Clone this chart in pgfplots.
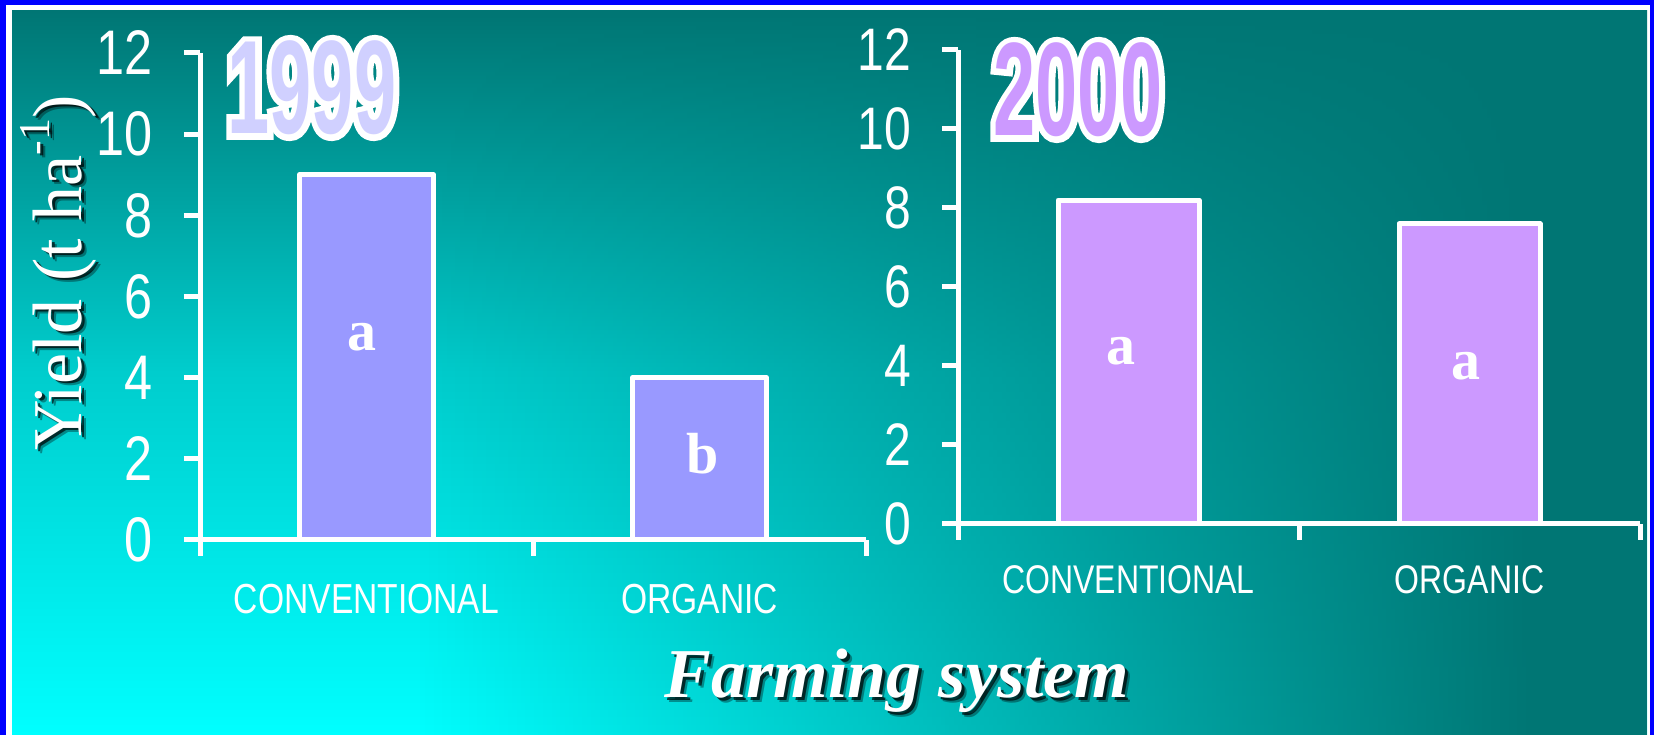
\documentclass[border=0pt]{standalone}
\usepackage{pgfplots}
\pgfplotsset{compat=1.18}
\usetikzlibrary{fadings}
\usepackage{fontspec}
\setmainfont{Liberation Serif}
\newfontfamily\narrowsans[FakeStretch=0.8]{Liberation Sans}
\newfontfamily\yearfont[FakeStretch=0.57]{Liberation Sans}
\newfontfamily\yearhalo[FakeStretch=0.57, FakeBold=9]{Liberation Sans}

\definecolor{bgteal}{RGB}{0,118,116}
\definecolor{bgmid}{RGB}{0,205,205}
\definecolor{bgcyan}{RGB}{0,255,255}
\definecolor{frameblue}{RGB}{0,0,255}
\definecolor{barblue}{RGB}{153,153,255}
\definecolor{barlilac}{RGB}{204,153,255}
\definecolor{yearlav}{RGB}{208,208,255}

\tikzfading[name=tealfade, left color=transparent!100, right color=transparent!0]

% outlined year heading: a thick white stroked copy under the coloured text
\newcommand{\yearhead}[3]{%
  \node[text=white, inner sep=0pt] at (#1) {\yearhalo\bfseries\fontsize{133}{133}\selectfont #3};
  \node[text=#2, inner sep=0pt] at (#1) {\yearfont\bfseries\fontsize{133}{133}\selectfont #3};
}

\newcommand{\perha}{t ha\raisebox{0.45em}{\fontsize{44}{44}\selectfont -1}}

% significance letters inside the bars
\tikzset{sig/.style={anchor=base, text=white, font=\fontsize{58}{58}\selectfont\bfseries}}

\pgfplotsset{
  yieldaxis/.style={
    scale only axis,
    clip=false,
    axis lines=left,
    axis line style={-, white, line width=5pt},
    x axis line style={-}, y axis line style={-},
    xmin=0, xmax=2, ymin=0, ymax=12,
    ytick={0,2,...,12},
    xtick={0,1,2}, xticklabels={,,},
    extra x ticks={0.5,1.5},
    extra x tick labels={CONVENTIONAL,ORGANIC},
    extra x tick style={major tick length=0pt},
    tick align=outside,
    major tick length=16pt,
    tick style={white, line width=5pt},
    /pgf/number format/assume math mode=true,
    yticklabel style={text=white, inner sep=0pt, anchor=east, xshift=-31pt},
    xticklabel style={text=white, inner sep=0pt, anchor=base},
  },
}

\begin{document}
\begin{tikzpicture}[x=1pt, y=1pt]
% frame and background
\fill[frameblue] (0,0) rectangle (1654,735);
\fill[white] (6,0) rectangle (1650,730);
\shade[top color=bgteal, bottom color=bgcyan, middle color=bgmid] (12,0) rectangle (1647,724);
\fill[bgteal, path fading=tealfade] (420,0) rectangle (1530,724);
\fill[bgteal] (1529,0) rectangle (1647,724);

% 1999
\begin{axis}[yieldaxis,
    at={(200pt,195pt)}, anchor=south west,
    width=666pt, height=487pt,
    yticklabel style={font=\narrowsans\fontsize{63}{63}\selectfont},
    xticklabel style={font=\narrowsans\fontsize{42}{42}\selectfont, yshift=-74pt},
  ]
  \addplot[ybar, bar width=134pt, fill=barblue, draw=white, line width=5pt, line join=round]
    coordinates {(0.5,9.0) (1.5,4.0)};
  \node[sig, xshift=-5pt] at (axis cs:0.5,4.68) {a};
  \node[sig, xshift=3pt] at (axis cs:1.5,1.63) {b};
\end{axis}

% 2000
\begin{axis}[yieldaxis,
    at={(958pt,211pt)}, anchor=south west,
    width=682pt, height=474pt,
    yticklabel style={font=\narrowsans\fontsize{60}{60}\selectfont},
    xticklabel style={font=\narrowsans\fontsize{40}{40}\selectfont, yshift=-70pt},
  ]
  \addplot[ybar, bar width=141pt, fill=barlilac, draw=white, line width=5pt, line join=round]
    coordinates {(0.5,8.2) (1.5,7.6)};
  \node[sig, xshift=-8pt] at (axis cs:0.5,4.03) {a};
  \node[sig, xshift=-4pt] at (axis cs:1.5,3.65) {a};
\end{axis}

% year headings
\yearhead{312,647}{yearlav}{1999}
\yearhead{1078,645}{barlilac}{2000}

% y-axis title with drop shadow
\node[rotate=90, anchor=base, text=black, opacity=0.35, font=\fontsize{70}{70}\selectfont] at (86,458) {Yield (\perha)};
\node[rotate=90, anchor=base, text=black, opacity=0.7, font=\fontsize{70}{70}\selectfont] at (84,460) {Yield (\perha)};
\node[rotate=90, anchor=base, text=white, font=\fontsize{70}{70}\selectfont] at (81,462) {Yield (\perha)};

% x-axis title with drop shadow
\node[anchor=base, text=black, opacity=0.35, font=\fontsize{70}{70}\selectfont\bfseries\itshape] at (902,32) {Farming system};
\node[anchor=base, text=black, opacity=0.7, font=\fontsize{70}{70}\selectfont\bfseries\itshape] at (900,34) {Farming system};
\node[anchor=base, text=white, font=\fontsize{70}{70}\selectfont\bfseries\itshape] at (897,37) {Farming system};
\end{tikzpicture}
\end{document}
